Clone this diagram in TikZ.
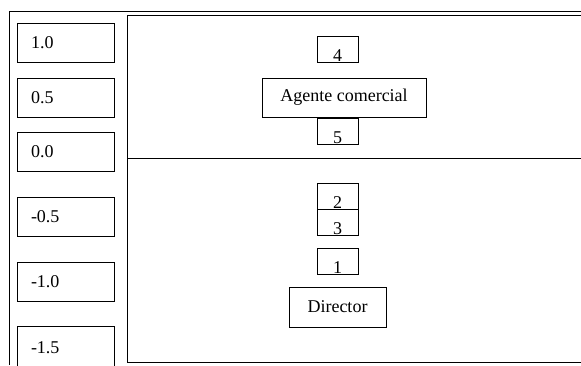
\documentclass[tikz,border=0pt]{standalone}
\usepackage{fontspec}
\setmainfont{Liberation Serif}
\usetikzlibrary{positioning}
\tikzstyle{scalebox} = [rectangle, draw=black, line width=0.9pt, minimum width=97pt, minimum height=39pt, text width=69pt, inner xsep=14pt, align=left]
\tikzstyle{slot} = [rectangle, draw=black, line width=0.9pt, minimum width=41pt, inner xsep=0pt, inner ysep=0pt, text height=25pt, text depth=1pt]
\tikzstyle{role} = [rectangle, draw=black, line width=0.9pt, minimum height=40pt, text centered]
\tikzstyle{frame} = [line width=0.8pt]

\begin{document}
\begin{tikzpicture}[x=1pt, y=-1pt, font=\fontsize{18}{21}\selectfont]
    \useasboundingbox (0,0) rectangle (581,365);
    % frames
    \draw [frame] (9,365) -- (9,11) -- (581,11);
    \draw [frame] (581,15) -- (127,15) -- (127,362) -- (581,362);
    \draw [frame] (127,158) -- (581,158);

    % scale on the left
    \node (v10) [scalebox] at (65.5,43) {1.0};
    \node (v05) [scalebox] at (65.5,98) {0.5};
    \node (v00) [scalebox] at (65.5,152) {0.0};
    \node (vm05) [scalebox] at (65.5,216.5) {-0.5};
    \node (vm10) [scalebox] at (65.5,281.5) {-1.0};
    \node (vm15) [scalebox, minimum height=44pt] at (65.5,348) {-1.5};

    % upper part
    \node (s4) [slot] at (337.5,49) {4};
    \node (agente) [role, minimum width=164pt, minimum height=39pt] at (344,97.5) {Agente comercial};
    \node (s5) [slot] at (337.5,131) {5};

    % lower part
    \node (s2) [slot] at (337.5,196) {2};
    \node (s3) [slot, below=0pt of s2] {3};
    \node (s1) [slot] at (337.5,261.5) {1};
    \node (director) [role, minimum width=97pt] at (337.5,307) {Director};
\end{tikzpicture}
\end{document}
